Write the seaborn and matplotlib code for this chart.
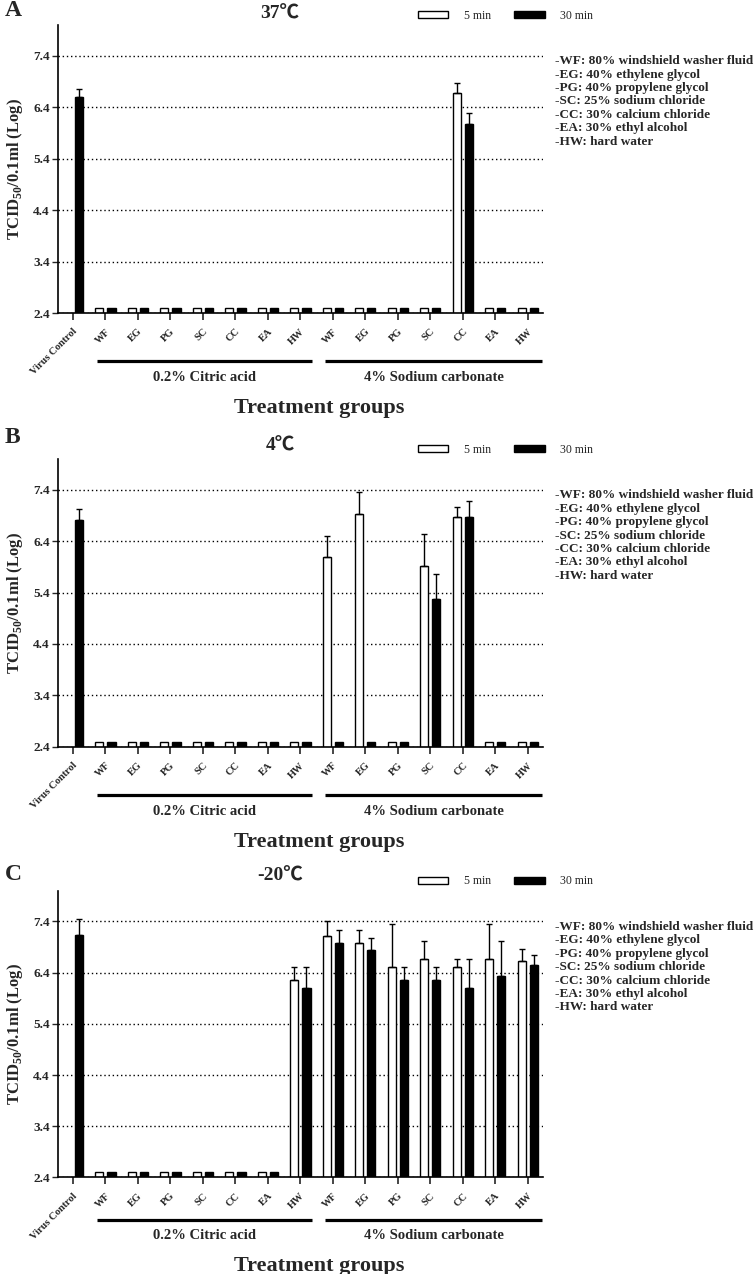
import numpy as np
import pandas as pd
import seaborn as sns
import matplotlib.pyplot as plt

sns.set_style("ticks")
plt.rcParams['font.family'] = ['Liberation Serif', 'Noto Sans CJK SC', 'DejaVu Sans']
plt.rcParams['font.weight'] = 'bold'
plt.rcParams['mathtext.fontset'] = 'custom'
plt.rcParams['mathtext.rm'] = 'Liberation Serif:bold'
plt.rcParams['mathtext.bf'] = 'Liberation Serif:bold'

# categories
cat_keys = ["VC",
            "CA-WF", "CA-EG", "CA-PG", "CA-SC", "CA-CC", "CA-EA", "CA-HW",
            "SoC-WF", "SoC-EG", "SoC-PG", "SoC-SC", "SoC-CC", "SoC-EA", "SoC-HW"]
tick_labels = ["Virus Control",
               "WF", "EG", "PG", "SC", "CC", "EA", "HW",
               "WF", "EG", "PG", "SC", "CC", "EA", "HW"]
times = ["5 min", "30 min"]
abbrev_text = ["-WF: 80% windshield washer fluid",
               "-EG: 40% ethylene glycol",
               "-PG: 40% propylene glycol",
               "-SC: 25% sodium chloride",
               "-CC: 30% calcium chloride",
               "-EA: 30% ethyl alcohol",
               "-HW: hard water"]

# A: 37 C
a_5min = [np.nan, 2.5, 2.5, 2.5, 2.5, 2.5, 2.5, 2.5,
          2.5, 2.5, 2.5, 2.5, 6.67, 2.5, 2.5]
a_5min_err = [0, 0, 0, 0, 0, 0, 0, 0,
              0, 0, 0, 0, 0.20, 0, 0]
a_30min = [6.60, 2.5, 2.5, 2.5, 2.5, 2.5, 2.5, 2.5,
           2.5, 2.5, 2.5, 2.5, 6.08, 2.5, 2.5]
a_30min_err = [0.16, 0, 0, 0, 0, 0, 0, 0,
               0, 0, 0, 0, 0.20, 0, 0]

# B: 4 C
b_5min = [np.nan, 2.5, 2.5, 2.5, 2.5, 2.5, 2.5, 2.5,
          6.10, 6.93, 2.5, 5.92, 6.88, 2.5, 2.5]
b_5min_err = [0, 0, 0, 0, 0, 0, 0, 0,
              0.41, 0.42, 0, 0.63, 0.19, 0, 0]
b_30min = [6.81, 2.5, 2.5, 2.5, 2.5, 2.5, 2.5, 2.5,
           2.5, 2.5, 2.5, 5.27, 6.87, 2.5, 2.5]
b_30min_err = [0.22, 0, 0, 0, 0, 0, 0, 0,
               0, 0, 0, 0.50, 0.31, 0, 0]

# C: -20 C
c_5min = [np.nan, 2.5, 2.5, 2.5, 2.5, 2.5, 2.5, 6.25,
          7.11, 6.97, 6.50, 6.67, 6.50, 6.67, 6.63]
c_5min_err = [0, 0, 0, 0, 0, 0, 0, 0.26,
              0.30, 0.27, 0.84, 0.34, 0.17, 0.67, 0.24]
c_30min = [7.14, 2.5, 2.5, 2.5, 2.5, 2.5, 2.5, 6.09,
           6.97, 6.85, 6.25, 6.25, 6.09, 6.33, 6.54]
c_30min_err = [0.30, 0, 0, 0, 0, 0, 0, 0.42,
               0.27, 0.22, 0.25, 0.25, 0.58, 0.68, 0.21]

panels = [
    ("A", "37℃", a_5min, a_5min_err, a_30min, a_30min_err),
    ("B", "4℃", b_5min, b_5min_err, b_30min, b_30min_err),
    ("C", "-20℃", c_5min, c_5min_err, c_30min, c_30min_err),
]

fig = plt.figure(figsize=(7.55, 12.74), dpi=100)
axes_pos = [
    [0.0768, 0.7543, 0.642, 0.2262],
    [0.0768, 0.4139, 0.642, 0.2258],
    [0.0768, 0.0758, 0.642, 0.2251],
]
letter_y = [1 - 10 / 1274, 1 - 438 / 1274, 1 - 874 / 1274]
title_y = [1.038, 1.046, 1.052]
# vertical spots (axes fraction) of group line, group text, axis title
below_y = [(-0.168, -0.225, -0.33),
           (-0.168, -0.225, -0.33),
           (-0.147, -0.204, -0.31)]


def draw_panel(ax, title, ty, by, v5, e5, v30, e30):
    rows = []
    for k, a, ea, b, eb in zip(cat_keys, v5, e5, v30, e30):
        if not np.isnan(a):
            rows.append({"cat": k, "time": "5 min", "value": a, "err": ea})
        rows.append({"cat": k, "time": "30 min", "value": b, "err": eb})
    df = pd.DataFrame(rows)

    sns.barplot(data=df, x="cat", y="value", hue="time", order=cat_keys,
                hue_order=times, palette={"5 min": "white", "30 min": "black"},
                edgecolor="black", linewidth=1.0, width=0.75, gap=0.33,
                errorbar=None, ax=ax)

    # one-sided error bars on top of each bar
    for cont, lvl in zip(ax.containers, times):
        sub = df[df["time"] == lvl].set_index("cat")
        for bar in cont:
            cx = bar.get_x() + bar.get_width() / 2
            key = cat_keys[int(round(cx))]
            err = sub.loc[key, "err"]
            if err > 0:
                ax.errorbar(cx, bar.get_height(), yerr=[[0], [err]], fmt="none",
                            ecolor="black", elinewidth=1.0, capsize=2.2,
                            capthick=1.0, zorder=3)

    ax.set_ylim(2.4, 8.0)
    ax.set_xlim(-0.46, 14.46)
    ax.set_yticks([2.4, 3.4, 4.4, 5.4, 6.4, 7.4])
    ax.set_yticklabels(["2.4", "3.4", "4.4", "5.4", "6.4", "7.4"],
                       fontsize=9.5, fontweight="bold")
    ax.tick_params(axis="y", length=4, width=1.0, pad=2)
    ax.set_xticks(range(len(cat_keys)))
    ax.set_xticklabels(tick_labels, rotation=45, ha="right",
                       rotation_mode="anchor", fontsize=7.5, fontweight="bold")
    ax.tick_params(axis="x", length=5, width=1.2, pad=5, direction="out")
    ax.grid(axis="y", linestyle=(0, (1, 2)), color="black", linewidth=1.0)
    ax.set_axisbelow(True)
    sns.despine(ax=ax)
    for s in ["left", "bottom"]:
        ax.spines[s].set_linewidth(1.2)
        ax.spines[s].set_color("black")

    ax.set_xlabel("")
    ax.set_ylabel(r"TCID$_{\mathbf{50}}$/0.1ml (Log)", fontsize=12,
                  fontweight="bold", labelpad=6)

    ax.text(0.458, ty, title, transform=ax.transAxes, ha="center", va="center",
            fontsize=14, fontweight="bold")

    sns.move_legend(ax, "center left", bbox_to_anchor=(0.742, 1.032), ncol=2,
                    frameon=False, title=None, handlelength=2.6,
                    handleheight=0.55, handletextpad=1.3, columnspacing=2.0,
                    borderpad=0, borderaxespad=0,
                    prop={"size": 8.5, "weight": "normal"})

    xt = ax.get_xaxis_transform()
    ax.plot([0.74, 7.35], [by[0], by[0]], transform=xt, color="black",
            lw=2.3, clip_on=False, solid_capstyle="butt")
    ax.plot([7.75, 14.43], [by[0], by[0]], transform=xt, color="black",
            lw=2.3, clip_on=False, solid_capstyle="butt")
    ax.text(4.05, by[1], "0.2% Citric acid", transform=xt, ha="center",
            va="center", fontsize=10.5, fontweight="bold")
    ax.text(11.1, by[1], "4% Sodium carbonate", transform=xt, ha="center",
            va="center", fontsize=10.5, fontweight="bold")
    ax.text(7.57, by[2], "Treatment groups", transform=xt, ha="center",
            va="center", fontsize=16, fontweight="bold")

    ax.text(1.025, 0.895, "\n".join(abbrev_text), transform=ax.transAxes,
            ha="left", va="top", fontsize=9.5, fontweight="bold",
            linespacing=1.16)


for pos, ly, ty, by, (letter, title, v5, e5, v30, e30) in zip(
        axes_pos, letter_y, title_y, below_y, panels):
    ax = fig.add_axes(pos)
    draw_panel(ax, title, ty, by, v5, e5, v30, e30)
    fig.text(0.006, ly, letter, fontsize=17, fontweight="bold", va="center",
             ha="left")

fig.savefig("out.png", dpi=100)
